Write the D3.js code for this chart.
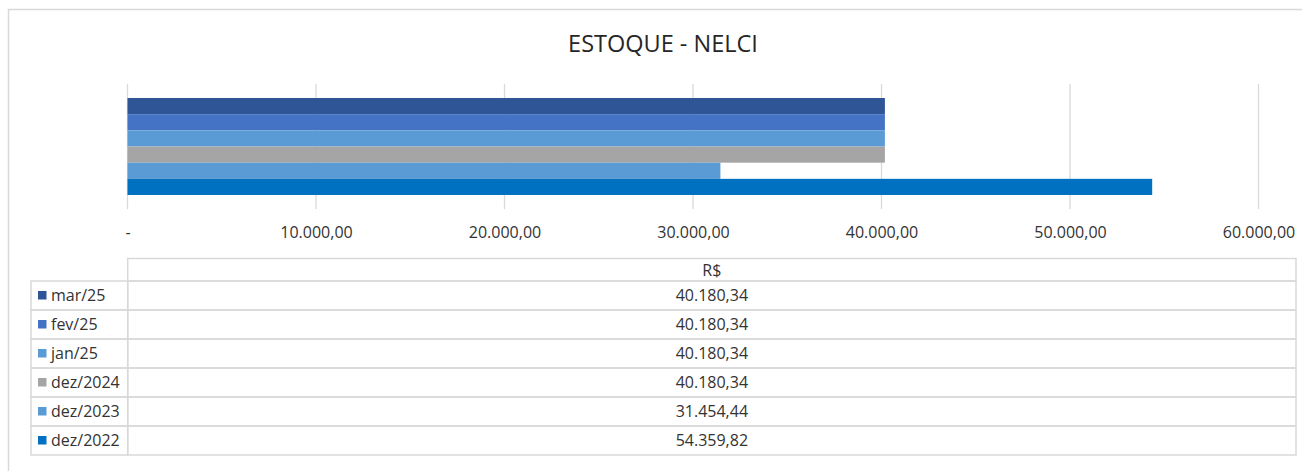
<!DOCTYPE html>
<html>
<head>
<meta charset="utf-8">
<script src="https://cdn.jsdelivr.net/npm/d3@7"></script>
<style>
  body { margin: 0; background: #fff; }
  svg { display: block; font-family: "Open Sans", sans-serif; }
</style>
</head>
<body>
<svg id="chart"></svg>
<script>
// data, top bar first (same order as the table)
const periods = ['mar/25', 'fev/25', 'jan/25', 'dez/2024', 'dez/2023', 'dez/2022'];
const values = [40180.34, 40180.34, 40180.34, 40180.34, 31454.44, 54359.82];
const colors = ['#2F5597', '#4472C4', '#5B9BD5', '#A5A5A5', '#5B9BD5', '#0070C0'];
const tickValues = [0, 10000, 20000, 30000, 40000, 50000, 60000];
const title = 'ESTOQUE - NELCI';
const seriesName = 'R$';

const W = 1302, H = 471;
const br = d3.formatLocale({ decimal: ',', thousands: '.', grouping: [3], currency: ['R$', ''] });
const fmt = br.format(',.2f');

const svg = d3.select('#chart').attr('width', W).attr('height', H);

// outer frame (runs off the right and bottom edges)
svg.append('rect')
  .attr('x', 8.5).attr('y', 9.5)
  .attr('width', W).attr('height', H)
  .attr('fill', 'none').attr('stroke', '#d9d9d9').attr('stroke-width', 1.5);

svg.append('text')
  .attr('x', 663).attr('y', 52)
  .attr('text-anchor', 'middle')
  .attr('font-size', 23.5).attr('fill', '#262626')
  .text(title);

const x = d3.scaleLinear().domain([0, 60000]).range([127.5, 1258.5]);
const y = d3.scaleBand().domain(periods).range([98, 195]).padding(0);

// gridlines
svg.append('g')
  .selectAll('line')
  .data(tickValues)
  .join('line')
  .attr('x1', d => x(d)).attr('x2', d => x(d))
  .attr('y1', 84).attr('y2', 209)
  .attr('stroke', '#d9d9d9').attr('stroke-width', 1.3);

svg.append('g')
  .selectAll('rect')
  .data(periods)
  .join('rect')
  .attr('x', x(0))
  .attr('y', d => y(d))
  .attr('width', (d, i) => x(values[i]) - x(0))
  .attr('height', y.bandwidth())
  .attr('fill', (d, i) => colors[i]);

// x axis labels
const xAxis = d3.axisBottom(x)
  .tickValues(tickValues)
  .tickSize(0)
  .tickPadding(0)
  .tickFormat(d => d === 0 ? '-' : fmt(d));

svg.append('g')
  .attr('transform', 'translate(0,227)')
  .call(xAxis)
  .call(g => g.select('.domain').remove())
  .call(g => g.selectAll('text')
    .attr('font-family', '"Open Sans", sans-serif')
    .attr('font-size', 16).attr('fill', '#333'));

// data table
const tLeft = 31, tSplit = 127.7, tRight = 1296;
const headTop = 258.5, rowTop = 281, rowH = 29;
const rowY = d3.scaleBand().domain(periods).range([rowTop, rowTop + rowH * periods.length]);
const line = '#d9d9d9';

const table = svg.append('g');
table.append('rect')
  .attr('x', tSplit).attr('y', headTop)
  .attr('width', tRight - tSplit).attr('height', rowTop - headTop)
  .attr('fill', 'none').attr('stroke', line).attr('stroke-width', 1.5);

const rows = table.selectAll('g.row')
  .data(periods)
  .join('g')
  .attr('class', 'row')
  .attr('transform', d => `translate(0,${rowY(d)})`);

rows.append('rect')
  .attr('x', tLeft).attr('width', tSplit - tLeft).attr('height', rowH)
  .attr('fill', 'none').attr('stroke', line).attr('stroke-width', 1.5);
rows.append('rect')
  .attr('x', tSplit).attr('width', tRight - tSplit).attr('height', rowH)
  .attr('fill', 'none').attr('stroke', line).attr('stroke-width', 1.5);

rows.append('rect')
  .attr('x', 38).attr('y', 10).attr('width', 8.5).attr('height', 8.5)
  .attr('fill', (d, i) => colors[i]);

rows.append('text')
  .attr('x', 51).attr('y', 20)
  .attr('font-size', 16).attr('fill', '#333')
  .text(d => d);

rows.append('text')
  .attr('x', (tSplit + tRight) / 2).attr('y', 20)
  .attr('text-anchor', 'middle')
  .attr('font-size', 16).attr('fill', '#333')
  .text((d, i) => fmt(values[i]));

table.append('text')
  .attr('x', (tSplit + tRight) / 2).attr('y', 275.5)
  .attr('text-anchor', 'middle')
  .attr('font-size', 16).attr('fill', '#333')
  .text(seriesName);
</script>
</body>
</html>
